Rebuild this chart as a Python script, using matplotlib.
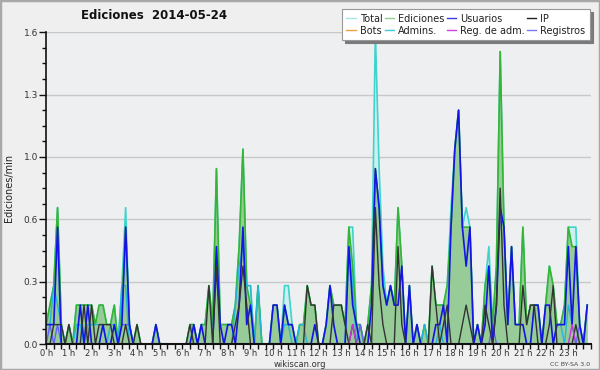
import numpy as np
import matplotlib
matplotlib.use('Agg')
from matplotlib import pyplot as plt, patches
from matplotlib.lines import Line2D
from matplotlib.ticker import MultipleLocator, FixedLocator

# ediciones por intervalo de 10 minutos (144 intervalos del día)
total = [1, 2, 3, 7, 1, 0, 1, 0, 2, 2, 2, 2,
         2, 1, 2, 2, 1, 1, 2, 0, 3, 7, 1, 0,
         1, 0, 0, 0, 0, 1, 0, 0, 0, 0, 0, 0,
         0, 0, 1, 1, 0, 1, 1, 3, 1, 9, 1, 1,
         1, 1, 2, 5, 10, 3, 3, 0, 3, 0, 0, 0,
         2, 2, 0, 3, 3, 1, 0, 1, 1, 3, 2, 2,
         0, 0, 1, 3, 2, 2, 2, 1, 6, 6, 1, 1,
         0, 1, 3, 16, 9, 4, 2, 3, 2, 7, 4, 0,
         3, 0, 1, 0, 1, 0, 4, 2, 2, 2, 3, 7,
         10, 12, 6, 7, 6, 0, 1, 0, 3, 5, 1, 4,
         15, 6, 1, 5, 1, 1, 6, 1, 2, 2, 2, 0,
         2, 4, 3, 1, 1, 2, 6, 6, 6, 1, 0, 2]
ediciones = [1, 2, 3, 7, 1, 0, 1, 0, 2, 2, 2, 2,
             2, 1, 2, 2, 1, 1, 2, 0, 2, 6, 1, 0,
             1, 0, 0, 0, 0, 1, 0, 0, 0, 0, 0, 0,
             0, 0, 1, 1, 0, 1, 1, 3, 1, 9, 1, 1,
             1, 1, 2, 5, 10, 3, 2, 0, 3, 0, 0, 0,
             2, 2, 0, 2, 1, 1, 0, 1, 1, 3, 2, 2,
             0, 0, 1, 3, 2, 2, 2, 1, 6, 4, 1, 1,
             0, 1, 3, 9, 7, 3, 2, 3, 2, 7, 4, 0,
             3, 0, 1, 0, 1, 0, 4, 2, 2, 2, 3, 6,
             10, 12, 6, 6, 6, 0, 1, 0, 3, 4, 1, 4,
             15, 6, 1, 5, 1, 1, 6, 1, 2, 2, 2, 0,
             2, 4, 3, 1, 1, 2, 6, 5, 5, 1, 0, 2]
usuarios = [1, 1, 1, 6, 0, 0, 0, 0, 0, 2, 0, 2,
            0, 0, 0, 1, 0, 0, 1, 0, 1, 6, 1, 0,
            0, 0, 0, 0, 0, 1, 0, 0, 0, 0, 0, 0,
            0, 0, 0, 1, 0, 1, 0, 0, 0, 5, 1, 0,
            1, 1, 0, 2, 6, 1, 2, 0, 0, 0, 0, 0,
            2, 2, 0, 2, 1, 1, 0, 0, 0, 0, 0, 1,
            0, 0, 1, 3, 1, 0, 0, 0, 5, 2, 1, 0,
            0, 0, 2, 9, 7, 3, 2, 3, 2, 2, 4, 0,
            3, 0, 1, 0, 0, 0, 0, 1, 1, 2, 0, 6,
            10, 12, 6, 4, 6, 0, 1, 0, 1, 4, 0, 2,
            7, 6, 1, 5, 1, 1, 1, 0, 0, 2, 2, 0,
            2, 2, 0, 1, 1, 1, 5, 1, 5, 1, 0, 2]
ip = [0, 0, 1, 1, 1, 0, 1, 0, 0, 0, 2, 0,
      2, 0, 1, 1, 1, 1, 0, 0, 0, 1, 0, 0,
      1, 0, 0, 0, 0, 0, 0, 0, 0, 0, 0, 0,
      0, 0, 1, 0, 0, 0, 0, 3, 0, 4, 0, 0,
      0, 0, 1, 2, 4, 2, 0, 0, 0, 0, 0, 0,
      0, 0, 0, 0, 0, 0, 0, 0, 0, 3, 2, 2,
      0, 0, 0, 0, 2, 2, 2, 1, 0, 1, 0, 0,
      0, 1, 0, 7, 3, 1, 0, 0, 0, 5, 1, 0,
      0, 0, 0, 0, 0, 0, 4, 2, 0, 1, 2, 0,
      0, 0, 1, 2, 1, 0, 0, 0, 2, 1, 0, 2,
      8, 2, 0, 0, 0, 0, 3, 1, 2, 2, 0, 0,
      0, 1, 3, 0, 0, 0, 0, 0, 1, 0, 0, 0]
bots = [0] * 144
admins = [1, 1, 3, 2, 1, 0, 0, 0, 1, 1, 0, 1,
          1, 1, 1, 1, 0, 1, 1, 0, 3, 3, 0, 0,
          0, 0, 0, 0, 0, 0, 0, 0, 0, 0, 0, 0,
          0, 0, 0, 0, 0, 0, 0, 0, 0, 0, 0, 0,
          0, 0, 2, 4, 5, 3, 3, 0, 3, 0, 0, 0,
          0, 0, 0, 1, 1, 0, 0, 1, 1, 0, 0, 0,
          0, 0, 0, 0, 0, 0, 0, 0, 5, 3, 0, 0,
          0, 0, 0, 0, 0, 0, 0, 0, 0, 0, 0, 0,
          0, 0, 0, 0, 1, 0, 0, 0, 1, 0, 0, 0,
          0, 0, 0, 0, 0, 0, 0, 0, 0, 0, 0, 0,
          0, 0, 0, 0, 0, 0, 0, 0, 0, 0, 0, 0,
          0, 0, 0, 1, 1, 0, 2, 1, 0, 0, 0, 0]
reg_adm = [0] * 81 + [1] + [0] * 57 + [1] + [0] * 4
registros = [0, 1, 0, 1, 0, 0, 0, 0, 0, 0, 0, 0,
             0, 0, 0, 0, 0, 0, 0, 0, 1, 1, 1, 0,
             0, 0, 0, 0, 0, 0, 0, 0, 0, 0, 0, 0,
             0, 0, 0, 0, 0, 0, 0, 0, 0, 0, 0, 0,
             0, 0, 0, 0, 0, 0, 0, 0, 0, 0, 0, 0,
             0, 0, 0, 0, 0, 0, 0, 0, 0, 0, 0, 0,
             0, 0, 0, 0, 0, 0, 0, 0, 0, 0, 0, 1,
             0, 0, 0, 0, 0, 0, 0, 0, 0, 0, 0, 0,
             0, 0, 0, 0, 0, 0, 0, 0, 0, 0, 0, 0,
             0, 0, 0, 0, 0, 0, 0, 0, 0, 0, 1, 0,
             0, 0, 0, 0, 0, 0, 0, 0, 0, 0, 0, 0,
             0, 0, 0, 0, 0, 0, 0, 0, 0, 1, 0, 0]

y_ticks = [0, 0.32, 0.64, 0.96, 1.28, 1.6]
y_labels = ['0.0', '0.3', '0.6', '1.0', '1.3', '1.6']
x_labels = [f'{h} h' for h in range(24)]

horas = np.arange(len(total)) / 6.0  # un punto cada 10 min


def por_min(v):
    return np.array(v, dtype=float) / 10.0


fig = plt.figure(figsize=(6, 3.7), dpi=100, facecolor='#efefef')
ax = fig.add_axes([0.077, 0.070, 0.908, 0.843])
ax.set_facecolor('#eeeff1')

# series
ax.plot(horas, por_min(bots), color='#f0a040', lw=1, zorder=1)
ax.fill_between(horas, por_min(total), color='#cdeff0', lw=0, zorder=1.2)
ax.plot(horas, por_min(total), color='#3fd3cc', lw=1.2, zorder=1.4)
ax.fill_between(horas, por_min(ediciones), color='#97cb97', lw=0, zorder=1.6)
ax.plot(horas, por_min(ediciones), color='#35b535', lw=1.2, zorder=1.8)
ax.plot(horas, por_min(admins), color='#22b6d8', lw=1, zorder=2.0)
ax.plot(horas, por_min(registros), color='#6262ff', lw=1, zorder=2.1)
ax.plot(horas, por_min(usuarios), color='#1414e6', lw=1.2, zorder=2.2)
ax.plot(horas, por_min(ip), color='#333333', lw=1, zorder=2.3)
ax.plot(horas, por_min(reg_adm), color='#cc33dd', lw=1, zorder=2.4)

ax.set_xlim(0, 24)
ax.set_ylim(0, 1.6)

ax.yaxis.set_major_locator(FixedLocator(y_ticks))
ax.set_yticklabels(y_labels)
ax.yaxis.set_minor_locator(MultipleLocator(0.08))
ax.set_xticks(range(24))
ax.set_xticklabels(x_labels)
ax.xaxis.set_minor_locator(MultipleLocator(1 / 3))

ax.tick_params(axis='both', which='both', direction='out', colors='#111',
               labelcolor='#333', labelsize=6.5, width=1)
ax.tick_params(axis='y', which='major', length=5, pad=1)
ax.tick_params(axis='y', which='minor', length=3)
ax.tick_params(axis='x', which='both', length=3.5, pad=0, labelsize=6)

ax.grid(axis='y', color='#c8c8c8', lw=1)
ax.set_axisbelow(True)
for s in ['top', 'right']:
    ax.spines[s].set_visible(False)
ax.spines['left'].set_color('#111')
ax.spines['bottom'].set_color('#111')
ax.spines['left'].set_linewidth(1.2)
ax.spines['bottom'].set_linewidth(1.5)

ax.set_ylabel('Ediciones/min', fontsize=7, color='#222', labelpad=7)

fig.text(0.257, 0.957, 'Ediciones  2014-05-24', fontsize=8.5, fontweight='bold',
         ha='center', va='center', color='#111')
fig.text(0.5, 0.016, 'wikiscan.org', fontsize=6, ha='center', va='center', color='#333')
fig.text(0.983, 0.016, 'CC BY-SA 3.0', fontsize=4.5, ha='right', va='center', color='#444')

# leyenda (ordenada por columnas)
etiquetas = ['Total', 'Bots', 'Ediciones', 'Admins.', 'Usuarios', 'Reg. de adm.', 'IP', 'Registros']
colores = ['#a8e6e6', '#f0a040', '#8fd08f', '#40c8d8', '#3a3ae0', '#cc44dd', '#222222', '#7878f0']
handles = [Line2D([0], [0], color=c, lw=1) for c in colores]
leg = fig.legend(handles=handles, labels=etiquetas, ncol=4, loc='upper right',
                 bbox_to_anchor=(0.983, 0.975), bbox_transform=fig.transFigure,
                 fontsize=7, handlelength=1.0, handletextpad=0.4, columnspacing=0.2,
                 labelspacing=0.2, borderpad=0.45, borderaxespad=0, fancybox=False,
                 framealpha=1, facecolor='white', edgecolor='#999999',
                 shadow={'facecolor': '#7a7a7a', 'edgecolor': '#7a7a7a', 'alpha': 1})
leg.get_frame().set_linewidth(0.8)
for t in leg.get_texts():
    t.set_color('#222')

fig.patches.append(patches.Rectangle((0, 0), 1, 1, transform=fig.transFigure, fill=False,
                                     edgecolor='#a8a8a8', lw=2.5))

fig.savefig('out.png', dpi=100, facecolor=fig.get_facecolor())
